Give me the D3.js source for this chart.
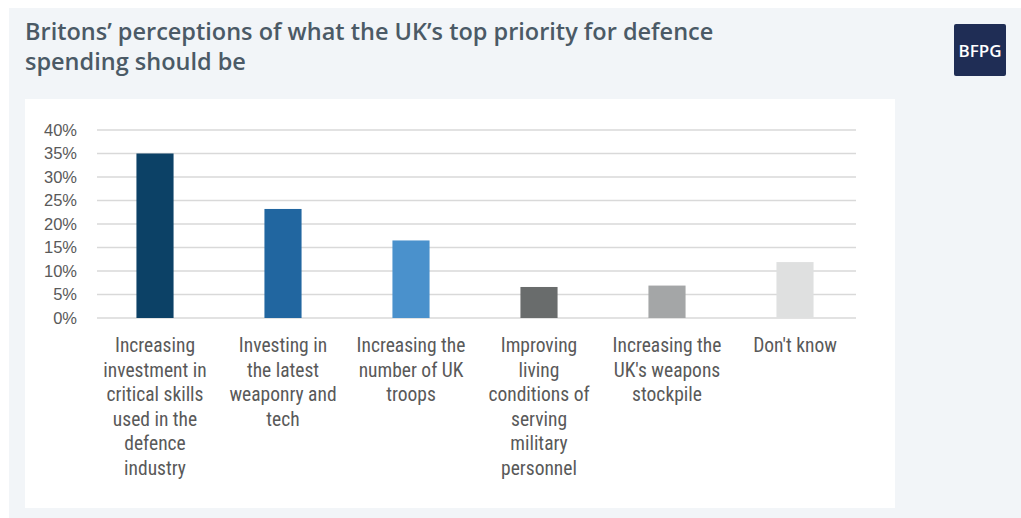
<!DOCTYPE html>
<html>
<head>
<meta charset="utf-8">
<script src="https://cdn.jsdelivr.net/npm/d3@7"></script>
<style>
  html, body { margin: 0; padding: 0; background: #ffffff; }
  svg { display: block; }
</style>
</head>
<body>
<svg id="chart" width="1021" height="518"></svg>
<script>
// Survey answers: top priority for UK defence spending
const categories = [
  "Increasing investment in critical skills used in the defence industry",
  "Investing in the latest weaponry and tech",
  "Increasing the number of UK troops",
  "Improving living conditions of serving military personnel",
  "Increasing the UK's weapons stockpile",
  "Don't know"
];
const categoryLines = [
  ["Increasing", "investment in", "critical skills", "used in the", "defence", "industry"],
  ["Investing in", "the latest", "weaponry and", "tech"],
  ["Increasing the", "number of UK", "troops"],
  ["Improving", "living", "conditions of", "serving", "military", "personnel"],
  ["Increasing the", "UK's weapons", "stockpile"],
  ["Don't know"]
];
const shares = [0.35, 0.232, 0.165, 0.066, 0.069, 0.119];
const barColors = ["#0c4166", "#2166a0", "#4a91cc", "#696c6c", "#a4a6a7", "#dfe0e0"];
const yTicks = [0, 0.05, 0.10, 0.15, 0.20, 0.25, 0.30, 0.35, 0.40];

const svg = d3.select("#chart");

// Page panels
svg.append("rect").attr("x", 9).attr("y", 8).attr("width", 1012).attr("height", 510).attr("fill", "#f2f5f8");
svg.append("rect").attr("x", 25).attr("y", 99).attr("width", 870).attr("height", 409).attr("fill", "#ffffff");

// Title
const title = svg.append("text")
  .attr("font-family", "'Open Sans', sans-serif")
  .attr("font-weight", 600)
  .attr("font-size", 23.5)
  .attr("fill", "#4b5a66");
title.append("tspan").attr("x", 25).attr("y", 40).text("Britons\u2019 perceptions of what the UK\u2019s top priority for defence");
title.append("tspan").attr("x", 25).attr("y", 69.5).text("spending should be");

// Logo
svg.append("rect").attr("x", 954).attr("y", 24).attr("width", 52).attr("height", 52).attr("rx", 2).attr("fill", "#1f2d55");
svg.append("text").attr("x", 980).attr("y", 56.5).attr("text-anchor", "middle")
  .attr("font-family", "'Open Sans', sans-serif").attr("font-weight", 600)
  .attr("font-size", 17).attr("fill", "#ffffff")
  .text("BFPG");

// Scales
const x = d3.scaleBand().domain(categories).range([91, 859]).paddingInner(0.71).paddingOuter(0.355);
const y = d3.scaleLinear().domain([0, 0.40]).range([318, 130]);

// Gridlines
svg.append("g").selectAll("line").data(yTicks).join("line")
  .attr("x1", 97).attr("x2", 856)
  .attr("y1", d => y(d)).attr("y2", d => y(d))
  .attr("stroke", "#d9d9d9").attr("stroke-width", 1.5);

// Y axis labels
const yAxis = d3.axisLeft(y).tickValues(yTicks).tickFormat(d3.format(".0%")).tickSize(0).tickPadding(0);
const yg = svg.append("g").attr("transform", "translate(77,0)").call(yAxis);
yg.select(".domain").remove();
yg.selectAll("text")
  .attr("font-family", "'Liberation Sans', Arial, sans-serif")
  .attr("font-size", 16.5)
  .attr("fill", "#595959");

// Bars
svg.append("g").selectAll("rect").data(shares).join("rect")
  .attr("x", (d, i) => x(categories[i]))
  .attr("width", x.bandwidth())
  .attr("y", d => y(d))
  .attr("height", d => y(0) - y(d))
  .attr("fill", (d, i) => barColors[i]);

// Category labels
const labels = svg.append("g")
  .attr("font-family", "'Liberation Sans Narrow', 'Roboto Condensed', 'DejaVu Sans Condensed', sans-serif")
  .attr("font-size", 19.5)
  .attr("fill", "#595959")
  .attr("text-anchor", "middle");
categoryLines.forEach((lines, i) => {
  const cx = x(categories[i]) + x.bandwidth() / 2;
  const t = labels.append("text");
  lines.forEach((ln, j) => {
    t.append("tspan").attr("x", cx).attr("y", 352 + j * 24.5).text(ln);
  });
});
</script>
</body>
</html>
